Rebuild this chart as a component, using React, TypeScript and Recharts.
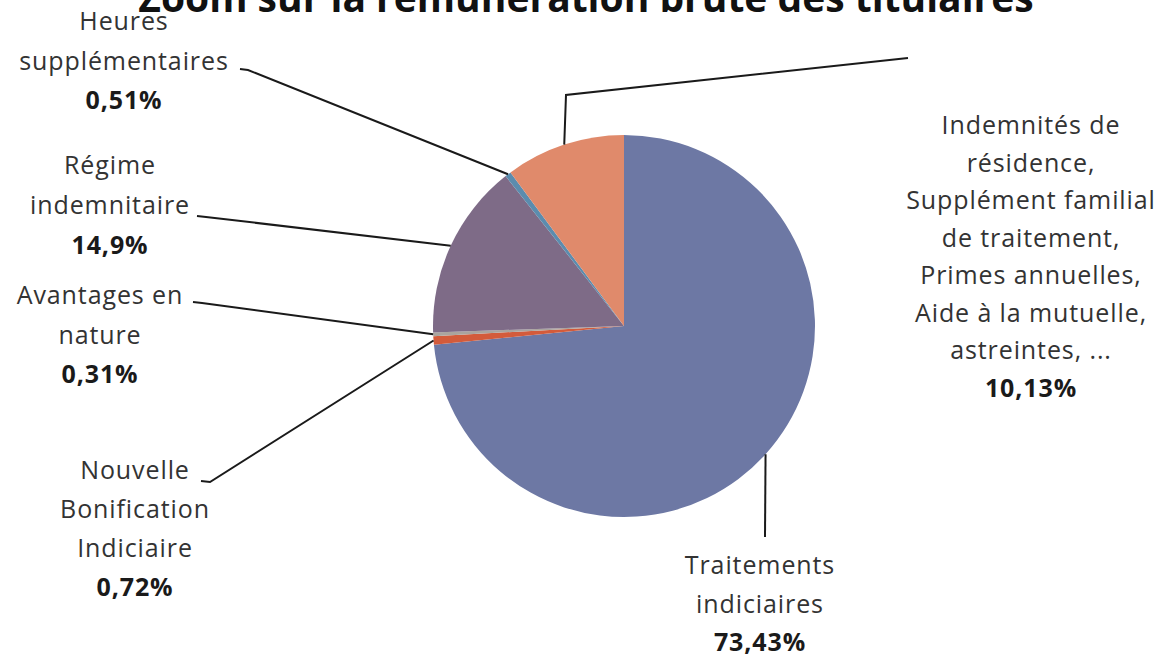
import React from 'react';
import { PieChart, Pie, Cell } from 'recharts';

const TITLE = 'Zoom sur la rémunération brute des titulaires';

// slices, clockwise from 12 o'clock
const categories = [
  'Traitements indiciaires',
  'Nouvelle Bonification Indiciaire',
  'Avantages en nature',
  'Régime indemnitaire',
  'Heures supplémentaires',
  'Indemnités de résidence, ...',
];
const shares = [73.43, 0.72, 0.31, 14.9, 0.51, 10.13];
const shareLabels = ['73,43%', '0,72%', '0,31%', '14,9%', '0,51%', '10,13%'];
const labelLines = [
  ['Traitements', 'indiciaires'],
  ['Nouvelle', 'Bonification', 'Indiciaire'],
  ['Avantages en', 'nature'],
  ['Régime', 'indemnitaire'],
  ['Heures', 'supplémentaires'],
  ['Indemnités de', 'résidence,', 'Supplément familial', 'de traitement,', 'Primes annuelles,', 'Aide à la mutuelle,', 'astreintes, ...'],
];
const colors = ['#6d78a4', '#d35b3b', '#aaa49e', '#7e6b87', '#5b8cae', '#e08a6b'];

// label placement (text block centre x, first baseline y, line spacing) and leader path
const labelLayout = [
  { x: 760, y: 574, dy: 38.5, path: [[765, 537]] },
  { x: 135, y: 479, dy: 39, path: [[201, 481], [210, 482]] },
  { x: 100, y: 304, dy: 39.5, path: [[193, 302], [202, 303]] },
  { x: 110, y: 174, dy: 40, path: [[197, 216], [206, 217]] },
  { x: 124, y: 30, dy: 39.5, path: [[240, 69], [248, 70]] },
  { x: 1031, y: 134, dy: 37.5, path: [[908, 58], [566, 95]] },
];

const data = categories.map((name, i) => ({ name, value: shares[i] }));

const RAD = Math.PI / 180;
const FONT = '"Open Sans", Lato, sans-serif';

const renderLabel = (props: any) => {
  const { cx, cy, midAngle, outerRadius, index } = props;
  const sx = cx + outerRadius * Math.cos(-midAngle * RAD);
  const sy = cy + outerRadius * Math.sin(-midAngle * RAD);
  const lay = labelLayout[index];
  const pts = [...lay.path, [sx, sy]].map(p => p.join(',')).join(' ');
  const lines = labelLines[index];
  return (
    <g key={`lbl-${index}`}>
      <polyline points={pts} fill="none" stroke="#1a1a1a" strokeWidth={2} />
      <text x={lay.x} y={lay.y} textAnchor="middle" fontFamily={FONT} fontSize={25} letterSpacing={0.9} fill="#333">
        {lines.map((l, j) => (
          <tspan key={j} x={lay.x} y={lay.y + j * lay.dy}>{l}</tspan>
        ))}
        <tspan x={lay.x} y={lay.y + lines.length * lay.dy} fontWeight="bold" fill="#1a1a1a">
          {shareLabels[index]}
        </tspan>
      </text>
    </g>
  );
};

export default function App() {
  return (
    <div style={{ position: 'fixed', left: 0, top: 0, width: 1165, height: 656, background: '#fff', overflow: 'hidden' }}>
      <PieChart width={1165} height={656} margin={{ top: 0, right: 0, bottom: 0, left: 0 }}>
        <Pie
          data={data}
          dataKey="value"
          nameKey="name"
          cx={624}
          cy={326}
          outerRadius={191}
          startAngle={90}
          endAngle={-270}
          stroke="none"
          label={renderLabel}
          labelLine={false}
          isAnimationActive={false}
        >
          {data.map((d, i) => (
            <Cell key={d.name} fill={colors[i]} />
          ))}
        </Pie>
      </PieChart>
      <svg width={1165} height={40} style={{ position: 'absolute', left: 0, top: 0 }}>
        <text x={586} y={12} textAnchor="middle" fontFamily={FONT} fontWeight="bold" fontSize={39} fill="#111">
          {TITLE}
        </text>
      </svg>
    </div>
  );
}
